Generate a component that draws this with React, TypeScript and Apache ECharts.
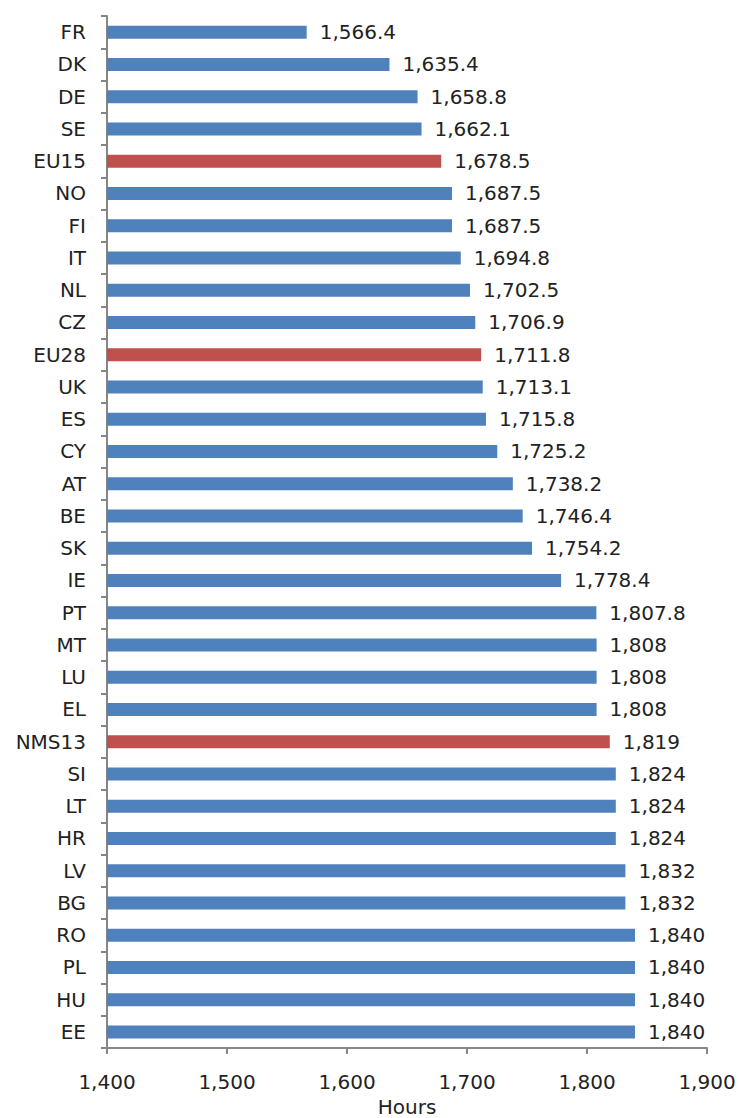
import React, { useEffect, useRef } from "react";
import * as echarts from "echarts";

const categories = ["FR","DK","DE","SE","EU15","NO","FI","IT","NL","CZ","EU28","UK","ES","CY","AT","BE","SK","IE","PT","MT","LU","EL","NMS13","SI","LT","HR","LV","BG","RO","PL","HU","EE"];
const values = [1566.4,1635.4,1658.8,1662.1,1678.5,1687.5,1687.5,1694.8,1702.5,1706.9,1711.8,1713.1,1715.8,1725.2,1738.2,1746.4,1754.2,1778.4,1807.8,1808,1808,1808,1819,1824,1824,1824,1832,1832,1840,1840,1840,1840];
const aggregates = ["EU15","EU28","NMS13"];
const xTicks = [1400, 1500, 1600, 1700, 1800, 1900];

const BLUE = "#4F81BD";
const RED = "#C0504D";
const FONT = "DejaVu Sans";
const TEXT = "#222222";

const fmt = (v: number) => v.toLocaleString("en-US", { maximumFractionDigits: 1 });

export default function App() {
  const ref = useRef<HTMLDivElement>(null);
  useEffect(() => {
    if (!ref.current) return;
    const chart = echarts.init(ref.current, null, { renderer: "svg" });
    chart.setOption({
      animation: false,
      grid: {
        left: 107,
        right: 32,
        top: 16,
        bottom: 70,
        containLabel: false,
        outerBoundsMode: "none",
      },
      xAxis: {
        type: "value",
        min: xTicks[0],
        max: xTicks[xTicks.length - 1],
        interval: 100,
        name: "Hours",
        nameLocation: "middle",
        nameGap: 48,
        nameTextStyle: { fontFamily: FONT, fontSize: 20, color: TEXT },
        axisLine: { show: true, lineStyle: { color: "#868686", width: 2 } },
        axisTick: { show: true, length: 6, lineStyle: { color: "#868686", width: 2 } },
        splitLine: { show: false },
        axisLabel: {
          fontFamily: FONT,
          fontSize: 20,
          color: TEXT,
          margin: 24,
          formatter: (v: number) => fmt(v),
        },
      },
      yAxis: {
        type: "category",
        inverse: true,
        data: categories,
        axisLine: { show: true, lineStyle: { color: "#868686", width: 2 } },
        axisTick: { show: true, length: 6, lineStyle: { color: "#868686", width: 2 } },
        axisLabel: { fontFamily: FONT, fontSize: 20, color: TEXT, margin: 21 },
      },
      series: [
        {
          type: "bar",
          barWidth: 13,
          data: values.map((v, i) => ({
            value: v,
            itemStyle: { color: aggregates.includes(categories[i]) ? RED : BLUE },
          })),
          label: {
            show: true,
            position: "right",
            distance: 13,
            fontFamily: FONT,
            fontSize: 20,
            color: TEXT,
            formatter: (p: any) => fmt(p.value),
          },
        },
      ],
    });
    return () => chart.dispose();
  }, []);
  return (
    <div
      ref={ref}
      style={{ position: "absolute", left: 0, top: 0, width: 739, height: 1118 }}
    />
  );
}
